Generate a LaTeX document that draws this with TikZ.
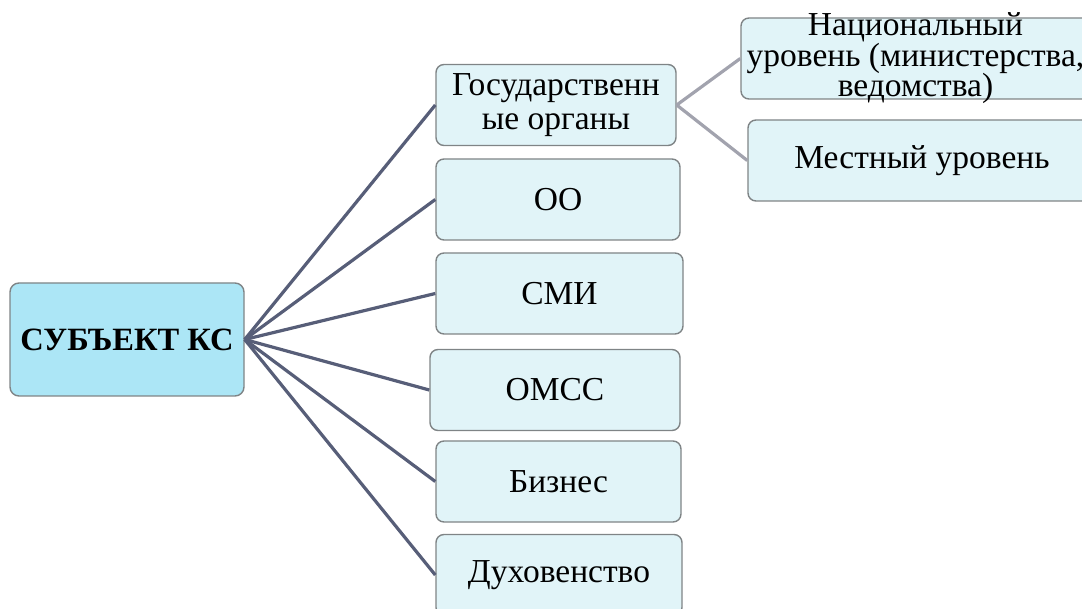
\documentclass[tikz,border=0pt]{standalone}
\usepackage{fontspec}
\setmainfont{Liberation Serif}
\usepackage{tikz}
\definecolor{rootfill}{HTML}{ACE6F6}
\definecolor{boxfill}{HTML}{E1F4F8}
\definecolor{boxline}{HTML}{7F8486}
\definecolor{branch}{HTML}{575E78}
\definecolor{twig}{HTML}{A2A3AE}
\tikzset{root node/.style={rectangle,rounded corners=9pt,fill=rootfill,draw=boxline,line width=1.4pt,minimum width=234pt,minimum height=113pt,inner sep=0pt,font=\fontsize{32.5}{32.5}\selectfont\bfseries},
sub node/.style={rectangle,rounded corners=8pt,fill=boxfill,draw=boxline,line width=1.4pt,minimum height=81pt,inner sep=0pt,align=center,font=\fontsize{33.5}{32}\selectfont}}

\begin{document}
\begin{tikzpicture}[x=1pt,y=-1pt]
            \useasboundingbox (0,0) rectangle (1082,609);
            \node[root node] (S) at (127,339.5) {СУБЪЕКТ КС};
            \node[sub node,minimum width=240pt,font=\fontsize{33.5}{34}\selectfont] (G) at (556,105) {Государственн\\ые органы};
            \node[sub node,minimum width=244pt] (O) at (558,199.5) {ОО};
            \node[sub node,minimum width=247pt] (M) at (559.5,293.5) {СМИ};
            \node[sub node,minimum width=250pt] (C) at (555,390) {ОМСС};
            \node[sub node,minimum width=245pt] (B) at (558.5,481.5) {Бизнес};
            \node[sub node,minimum width=246pt] (D) at (559,575) {Духовенство};
            \node[sub node,minimum width=349pt,label={[align=center,font=\fontsize{33.5}{30.5}\selectfont]center:Национальный\\уровень (министерства,\\ведомства)}] (N) at (915.5,58.5) {};
            \node[sub node,minimum width=348pt] (L) at (922,160.5) {Местный уровень};

            \path[draw, line width=3.2pt, branch]
            (S.east) edge (G.west)
            (S.east) edge (O.west)
            (S.east) edge (M.west)
            (S.east) edge (C.west)
            (S.east) edge (B.west)
            (S.east) edge (D.west);
            \path[draw, line width=3.2pt, twig]
            (G.east) edge (N.west)
            (G.east) edge (L.west);
        \end{tikzpicture}
\end{document}
